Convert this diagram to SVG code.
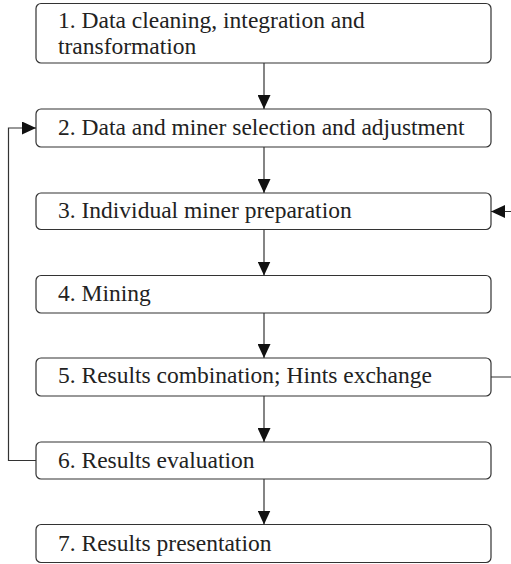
<svg xmlns="http://www.w3.org/2000/svg" width="511" height="564" viewBox="0 0 511 564">
<style>
.box{fill:#fff;stroke:#333;stroke-width:1.2}
.lbl{font-family:"Liberation Serif","Times New Roman",serif;font-size:23.5px;fill:#222}
.conn{fill:none;stroke:#333;stroke-width:1.2}
</style>
<defs>
<marker id="ah" markerUnits="userSpaceOnUse" markerWidth="14" markerHeight="13" refX="14" refY="6.5" orient="auto">
<path d="M0,0 L14,6.5 L0,13 z" fill="#111"/>
</marker>
</defs>
<rect width="511" height="564" fill="#fff"/>
<g id="n1"><rect class="box" x="36" y="3.5" width="455" height="59.5" rx="5"/><text class="lbl" x="58" y="28">1. Data cleaning, integration and</text><text class="lbl" x="58" y="54">transformation</text></g>
<g id="n2"><rect class="box" x="36" y="109" width="455" height="38" rx="5"/><text class="lbl" x="58" y="135">2. Data and miner selection and adjustment</text></g>
<g id="n3"><rect class="box" x="36" y="193" width="455" height="36.5" rx="5"/><text class="lbl" x="58" y="218">3. Individual miner preparation</text></g>
<g id="n4"><rect class="box" x="36" y="275.5" width="455" height="37.5" rx="5"/><text class="lbl" x="58" y="301">4. Mining</text></g>
<g id="n5"><rect class="box" x="36" y="358" width="455" height="38" rx="5"/><text class="lbl" x="58" y="383">5. Results combination; Hints exchange</text></g>
<g id="n6"><rect class="box" x="36" y="442" width="455" height="37" rx="5"/><text class="lbl" x="58" y="468">6. Results evaluation</text></g>
<g id="n7"><rect class="box" x="36" y="524.5" width="455" height="38" rx="5"/><text class="lbl" x="58" y="551">7. Results presentation</text></g>
<g id="connectors">
<line class="conn" x1="264" y1="63" x2="264" y2="109" marker-end="url(#ah)"/>
<line class="conn" x1="264" y1="147" x2="264" y2="193" marker-end="url(#ah)"/>
<line class="conn" x1="264" y1="229.5" x2="264" y2="275.5" marker-end="url(#ah)"/>
<line class="conn" x1="264" y1="313" x2="264" y2="358" marker-end="url(#ah)"/>
<line class="conn" x1="264" y1="396" x2="264" y2="442" marker-end="url(#ah)"/>
<line class="conn" x1="264" y1="479" x2="264" y2="524.5" marker-end="url(#ah)"/>
<path class="conn" d="M36,460.5 H8.5 V128 H36" marker-end="url(#ah)"/>
<path class="conn" d="M491,377 H516 V211.5 H491" marker-end="url(#ah)"/>
</g>
</svg>
